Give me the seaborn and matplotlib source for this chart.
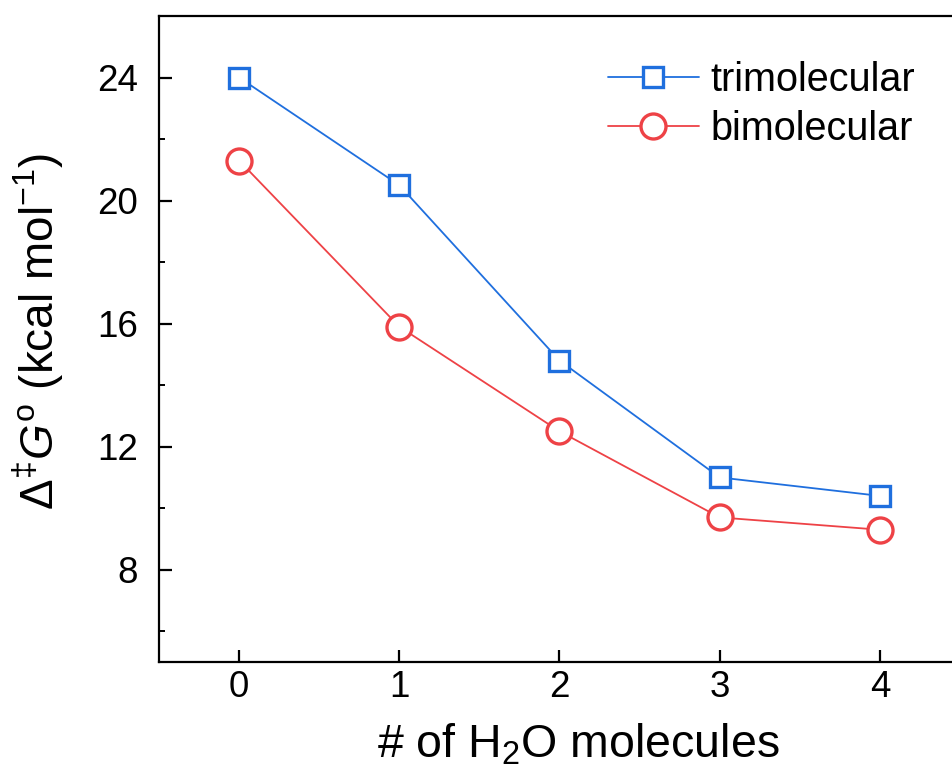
import pandas as pd
import matplotlib
matplotlib.use('Agg')
import matplotlib.pyplot as plt
import seaborn as sns
from matplotlib.ticker import MultipleLocator

# data
n_water = [0, 1, 2, 3, 4]
trimolecular = [24.0, 20.5, 14.8, 11.0, 10.4]
bimolecular = [21.3, 15.9, 12.5, 9.7, 9.3]

sns.set_style('ticks')
plt.rcParams['font.family'] = ['Liberation Sans', 'DejaVu Sans']
plt.rcParams['mathtext.fontset'] = 'custom'
plt.rcParams['mathtext.rm'] = 'Liberation Sans'
plt.rcParams['mathtext.it'] = 'Liberation Sans:italic'
plt.rcParams['text.color'] = 'black'
plt.rcParams['axes.labelcolor'] = 'black'
plt.rcParams['xtick.color'] = 'black'
plt.rcParams['ytick.color'] = 'black'

blue = '#1F6FDE'
red = '#EE4246'

fig = plt.figure(figsize=(9.53, 7.76), dpi=100)
ax = fig.add_axes([159 / 953, 1 - 662 / 776, (960 - 159) / 953, (662 - 16) / 776])

df_tri = pd.DataFrame({'n': n_water, 'dG': trimolecular})
df_bi = pd.DataFrame({'n': n_water, 'dG': bimolecular})

sns.lineplot(data=df_tri, x='n', y='dG', ax=ax, color=blue, linewidth=1.3,
             marker='s', markersize=15, markerfacecolor='white',
             markeredgecolor=blue, markeredgewidth=2.4, label='trimolecular')
sns.lineplot(data=df_bi, x='n', y='dG', ax=ax, color=red, linewidth=1.3,
             marker='o', markersize=18, markerfacecolor='white',
             markeredgecolor=red, markeredgewidth=2.4, label='bimolecular')

ax.set_xlim(-0.5, 4.5)
ax.set_ylim(5, 26)
ax.set_xticks(n_water)
ax.yaxis.set_major_locator(MultipleLocator(4))
ax.yaxis.set_minor_locator(MultipleLocator(2))
ax.set_yticks([8, 12, 16, 20, 24])

for s in ax.spines.values():
    s.set_linewidth(1.6)
    s.set_color('black')
ax.tick_params(which='major', direction='in', length=9, width=1.6, labelsize=26.5, color='black')
ax.tick_params(which='minor', direction='in', length=4.5, width=1.4, color='black')
ax.tick_params(axis='x', which='both', top=False, pad=6)
ax.tick_params(axis='y', which='both', right=False, pad=15)

ax.set_xlabel('# of H$_2$O molecules', fontsize=33.5)
ax.set_ylabel(r'$\Delta^{‡}\mathit{G}^{\mathrm{o}}$ (kcal mol$^{-1}$)', fontsize=33)
ax.xaxis.set_label_coords(0.523, -0.093)
ax.yaxis.set_label_coords(-0.116, 0.511)

ax.legend(loc='upper right', bbox_to_anchor=(951 / 953, 1 - 25 / 776), bbox_transform=fig.transFigure,
          frameon=False, fontsize=28.5, handlelength=2.3, handletextpad=0.3, labelspacing=0.28)

fig.savefig('out.png', dpi=100)
